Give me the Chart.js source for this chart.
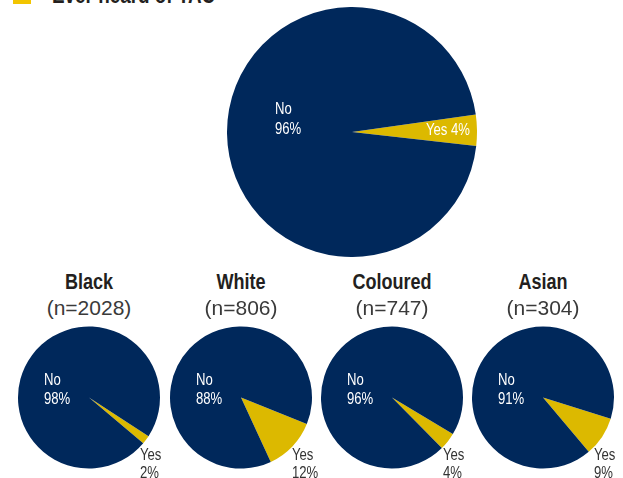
<!DOCTYPE html>
<html lang="en">
<head>
    <meta charset="UTF-8">
    <title>Ever heard of TAC</title>
    <script src="https://cdn.jsdelivr.net/npm/chart.js"></script>
    <style>
        body { margin: 0; background: #fff; }
        .page { position: relative; width: 623px; height: 478px; overflow: hidden; background: #fff; }
        .page canvas { position: absolute; }
        .legend_box { position: absolute; left: 13px; top: -14px; width: 18px; height: 18px; background: #f2c500; }
        /* narrow look: Liberation Sans squeezed horizontally */
        .titulo { position: absolute; left: 52px; top: -16px; font: bold 23px/23px "Liberation Sans", Arial, sans-serif; color: #231f20; white-space: nowrap; transform: scaleX(0.82); transform-origin: left center; }
        .grupo { position: absolute; width: 152px; text-align: center; top: 271px; font: bold 22px/22px "Liberation Sans", Arial, sans-serif; color: #231f20; transform: scaleX(0.82); transform-origin: center; }
        .amostra { position: absolute; width: 152px; text-align: center; top: 297px; font: 21px/21px "Liberation Sans", Arial, sans-serif; color: #3a3a3a; }
    </style>
</head>
<body>
    <div class="page" id="page">
        <div class="legend_box"></div>
        <div class="titulo">Ever heard of TAC</div>
        <canvas id="pie_total" width="250" height="250" style="left:227px; top:7px;"></canvas>
    </div>

<script>
// all respondents
const totalYes = 4;
const totalNo = 96;

// by population group
const groups = ['Black', 'White', 'Coloured', 'Asian'];
const sampleSizes = [2028, 806, 747, 304];
const yesPct = [2, 12, 4, 9];
const noPct = [98, 88, 96, 91];

const navy = '#00285b';
const yellow = '#dcb900';

// where the "Yes" slice starts, degrees clockwise from 12 o'clock
const rotTotal = 82;
const rotGroups = [123, 112, 121, 107.5];

// small pies: left edge of each canvas
const smallLeft = [11, 163, 314, 465];

// writes the slice labels relative to the pie centre
const sliceLabels = {
    id: 'sliceLabels',
    afterDatasetsDraw(chart, args, opts) {
        const arc = chart.getDatasetMeta(0).data[0];
        const ctx = chart.ctx;
        opts.items.forEach(function (it) {
            it.lines.forEach(function (txt, i) {
                ctx.save();
                ctx.font = '16px "Liberation Sans", Arial, sans-serif';
                ctx.textAlign = 'left';
                ctx.textBaseline = 'alphabetic';
                ctx.fillStyle = it.color;
                ctx.translate(arc.x + it.dx, arc.y + it.dy + i * it.gap);
                ctx.scale(0.82, 1);
                ctx.fillText(txt, 0, 0);
                ctx.restore();
            });
        });
    }
};

function criarPizza(canvas, yes, no, rotation, radius, labels) {
    return new Chart(canvas, {
        type: 'pie',
        data: {
            labels: ['Yes', 'No'],
            datasets: [{
                data: [yes, no],
                backgroundColor: [yellow, navy],
                borderWidth: 0
            }]
        },
        options: {
            responsive: false,
            animation: false,
            rotation: rotation,
            radius: radius,
            events: [],
            plugins: {
                legend: { display: false },
                tooltip: { enabled: false },
                sliceLabels: { items: labels }
            }
        },
        plugins: [sliceLabels]
    });
}

// big pie on top
criarPizza(document.getElementById('pie_total'), totalYes, totalNo, rotTotal, 125, [
    { lines: ['No', totalNo + '%'], dx: -77, dy: -18, gap: 19.5, color: '#ffffff' },
    { lines: ['Yes ' + totalYes + '%'], dx: 74, dy: 3, gap: 0, color: '#ffffff' }
]);

// one small pie per group
const page = document.getElementById('page');
for (let i = 0; i < groups.length; i++) {
    const titulo = document.createElement('div');
    titulo.className = 'grupo';
    titulo.style.left = (smallLeft[i] + 2) + 'px';
    titulo.textContent = groups[i];
    page.appendChild(titulo);

    const n = document.createElement('div');
    n.className = 'amostra';
    n.style.left = (smallLeft[i] + 2) + 'px';
    n.textContent = '(n=' + sampleSizes[i] + ')';
    page.appendChild(n);

    const cv = document.createElement('canvas');
    cv.width = 156;
    cv.height = 161;
    cv.style.left = smallLeft[i] + 'px';
    cv.style.top = '317px';
    page.appendChild(cv);

    criarPizza(cv, yesPct[i], noPct[i], rotGroups[i], 71, [
        { lines: ['No', noPct[i] + '%'], dx: -45, dy: -13, gap: 19, color: '#ffffff' },
        { lines: ['Yes', yesPct[i] + '%'], dx: 51, dy: 62, gap: 18, color: '#333333' }
    ]);
}
</script>
</body>
</html>
